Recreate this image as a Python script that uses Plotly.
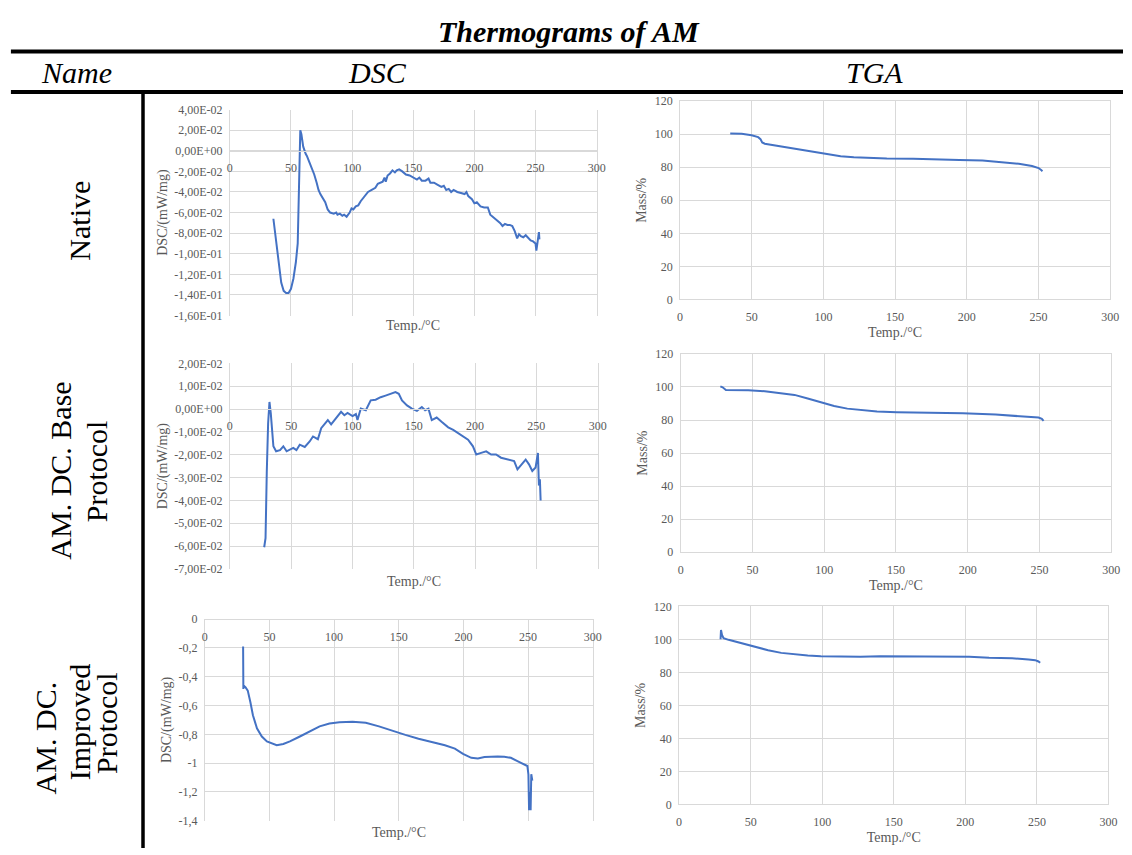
import plotly.graph_objects as go

W, H = 1132, 855

# ---------------- data ----------------
# Native DSC
dsc_native_T = [35.6, 38, 40, 42, 44, 46, 48, 50, 52, 54, 55.5, 56.3, 57, 57.6, 58.5, 60, 62, 63, 65, 67,
                69, 71, 72.5, 74, 76, 78, 80, 82, 85, 87, 88, 90, 92, 93.5, 95.5, 98, 99.5, 101, 103, 105,
                107, 110, 113, 116, 119, 121, 123, 125, 126.5, 127.5, 129, 131, 133, 135, 136.5, 138.5,
                141, 144, 147, 150, 153, 155, 157, 160, 162.5, 164, 167, 170, 173, 175, 177, 179, 181,
                183, 186, 189, 192, 193.5, 195, 198, 200, 202, 205, 208, 211, 213, 215, 217, 219, 221,
                223, 225, 227, 229, 231, 233, 235, 236.5, 238, 240, 242, 244, 246, 248, 250, 250.7,
                251.5, 252.3, 252.8, 253.2]
dsc_native_v = [-0.066, -0.09, -0.112, -0.128, -0.136, -0.138, -0.138, -0.134, -0.124, -0.108, -0.09,
                -0.05, -0.01, 0.020, 0.016, 0.004, -0.003, -0.005, -0.011, -0.017, -0.023, -0.031,
                -0.038, -0.042, -0.046, -0.05, -0.057, -0.06, -0.061, -0.06, -0.062, -0.061, -0.063,
                -0.062, -0.064, -0.060, -0.056, -0.057, -0.054, -0.053, -0.049, -0.044, -0.040, -0.038,
                -0.036, -0.032, -0.031, -0.030, -0.026, -0.030, -0.024, -0.022, -0.019, -0.021, -0.019,
                -0.018, -0.020, -0.023, -0.024, -0.026, -0.028, -0.026, -0.029, -0.029, -0.027, -0.031,
                -0.031, -0.033, -0.035, -0.034, -0.038, -0.037, -0.040, -0.038, -0.040, -0.041, -0.042,
                -0.040, -0.044, -0.047, -0.051, -0.050, -0.054, -0.055, -0.055, -0.062, -0.064, -0.066,
                -0.068, -0.070, -0.073, -0.071, -0.072, -0.072, -0.073, -0.078, -0.085, -0.081, -0.083,
                -0.084, -0.082, -0.085, -0.087, -0.088, -0.090, -0.097, -0.089, -0.085, -0.079, -0.086]

# Native TGA
tga_native_T = [35, 43, 49.9, 54.5, 56.1, 57.3, 59.1, 66, 75.2, 84.4, 93.6, 102.8, 112, 121.2, 130.4,
                144.2, 162.7, 181.1, 194.9, 211, 224.8, 236.3, 245.5, 250.1, 251.9, 252.8]
tga_native_v = [100.4, 100.2, 99.4, 98.2, 97.0, 95.0, 94.2, 93.2, 92.0, 90.4, 89.1, 87.9, 86.7, 86.1,
                85.7, 85.3, 85.1, 84.9, 84.3, 84.1, 83.1, 82.1, 80.7, 79.5, 78.3, 77.6]

# AM. DC. Base Protocol DSC
dsc_base_T = [28, 29.1, 30.1, 31.2, 32.3, 33.4, 35.5, 37.7, 40.9, 43.6, 46.3, 51.7, 54.3, 57, 61.1, 65.1,
              67.8, 71.8, 74.5, 79.9, 82.6, 86.6, 90.7, 93.4, 96, 100.1, 102.8, 104.1, 106.8, 110.9,
              114.9, 118.9, 123, 127, 131, 135.1, 137.8, 140.4, 144.5, 148.5, 152.6, 156.6, 159.3, 162,
              164.7, 168.7, 172.7, 178.1, 182.2, 186.2, 190.2, 194.3, 198.3, 201, 205, 209.1, 213.1,
              217.1, 221.2, 226.5, 231.9, 234.6, 238.7, 241.3, 244, 246.7, 249.4, 251.3, 252.1, 252.9,
              253.5]
dsc_base_v = [-0.0605, -0.0565, -0.0278, -0.0063, 0.0031, -0.002, -0.0163, -0.0185, -0.018, -0.0163,
              -0.0185, -0.017, -0.018, -0.0156, -0.0166, -0.0142, -0.012, -0.0132, -0.0084, -0.0048,
              -0.0067, -0.0041, -0.0012, -0.0027, -0.0017, -0.0031, -0.0022, -0.0048, 0.0002, -0.0005,
              0.0038, 0.0041, 0.0052, 0.0059, 0.0067, 0.0074, 0.0067, 0.0038, 0.0016, 0.0002, -0.0008,
              0.0009, -0.0005, 0.0002, -0.0048, -0.0037, -0.0056, -0.008, -0.0091, -0.0106, -0.012,
              -0.0134, -0.0163, -0.0199, -0.0192, -0.0185, -0.0199, -0.0199, -0.0213, -0.0221, -0.0228,
              -0.0264, -0.0235, -0.0221, -0.0242, -0.0271, -0.0256, -0.0192, -0.0335, -0.0307, -0.040]

# AM. DC. Base Protocol TGA
tga_base_T = [27.6, 29.2, 31.5, 35.6, 47.1, 58.6, 70.1, 79.3, 88.5, 97.7, 106.9, 116.1, 125.3, 136.8,
              150.6, 173.6, 196.6, 219.5, 237.9, 249.4, 251.7, 252.9]
tga_base_v = [100.4, 99.8, 98.2, 98.2, 98.0, 97.4, 96.4, 95.2, 93.0, 90.6, 88.5, 86.9, 85.9, 85.1,
              84.7, 84.5, 84.1, 83.3, 82.3, 81.5, 80.7, 79.5]

# AM. DC. Improved Protocol DSC
dsc_impr_T = [29.6, 29.8, 30.1, 31.4, 33.2, 35.2, 37.2, 40.3, 44.1, 48, 53.1, 55.6, 60.7, 65.8, 73.5,
              81.1, 88.8, 96.4, 104.1, 114.3, 124.5, 134.7, 144.9, 155.1, 165.3, 175.5, 185.7, 193.4,
              199.7, 206.1, 211.2, 216.3, 221.4, 226.5, 231.6, 236.7, 241.8, 246.9, 249.5, 250.3,
              250.8, 251.5, 252, 252.5, 253.3]
dsc_impr_v = [-0.19, -0.485, -0.462, -0.473, -0.496, -0.576, -0.667, -0.758, -0.815, -0.849, -0.867,
              -0.876, -0.867, -0.849, -0.815, -0.781, -0.745, -0.725, -0.716, -0.713, -0.719, -0.745,
              -0.776, -0.804, -0.831, -0.854, -0.876, -0.899, -0.936, -0.963, -0.967, -0.958, -0.954,
              -0.954, -0.956, -0.963, -0.986, -1.008, -1.020, -1.08, -1.327, -1.2, -1.327, -1.077,
              -1.122]

# AM. DC. Improved Protocol TGA
tga_impr_T = [29, 29.3, 30, 30.4, 31.1, 34.6, 41.5, 48.4, 55.3, 62.2, 71.4, 80.6, 89.9, 99.1, 112.9,
              126.7, 140.5, 156.7, 172.8, 186.6, 202.8, 216.6, 232.7, 244.2, 248.8, 251.1, 252.3]
tga_impr_v = [100.1, 105.7, 102.7, 101.7, 100.7, 99.7, 98.1, 96.4, 94.8, 93.4, 91.8, 90.8, 90.2, 89.8,
              89.4, 89.4, 89.8, 89.6, 89.8, 89.6, 89.4, 88.8, 88.6, 87.8, 87.4, 86.6, 85.8]

# tick labels
x_ticks = [0, 50, 100, 150, 200, 250, 300]
x_ticktext = ["0", "50", "100", "150", "200", "250", "300"]
dsc_native_ticks = [-0.16, -0.14, -0.12, -0.10, -0.08, -0.06, -0.04, -0.02, 0.0, 0.02, 0.04]
dsc_native_ticktext = ["-1,60E-01", "-1,40E-01", "-1,20E-01", "-1,00E-01", "-8,00E-02", "-6,00E-02",
                       "-4,00E-02", "-2,00E-02", "0,00E+00", "2,00E-02", "4,00E-02"]
dsc_base_ticks = [-0.07, -0.06, -0.05, -0.04, -0.03, -0.02, -0.01, 0.0, 0.01, 0.02]
dsc_base_ticktext = ["-7,00E-02", "-6,00E-02", "-5,00E-02", "-4,00E-02", "-3,00E-02", "-2,00E-02",
                     "-1,00E-02", "0,00E+00", "1,00E-02", "2,00E-02"]
dsc_impr_ticks = [-1.4, -1.2, -1.0, -0.8, -0.6, -0.4, -0.2, 0.0]
dsc_impr_ticktext = ["-1,4", "-1,2", "-1", "-0,8", "-0,6", "-0,4", "-0,2", "0"]
tga_ticks = [0, 20, 40, 60, 80, 100, 120]
tga_ticktext = ["0", "20", "40", "60", "80", "100", "120"]

# ---------------- layout helpers ----------------
LINE = "#4472C4"
GRID = "#D9D9D9"
TXT = "#595959"
SERIF = "Liberation Serif"


def px(x):
    return x / W


def py(y):
    return 1 - y / H


panels = [
    (dsc_native_T, dsc_native_v, (229.3, 600), (104.3, 313.7), [-0.16, 0.04], dsc_native_ticks, dsc_native_ticktext, "dsc", "DSC/(mW/mg)", 324),
    (tga_native_T, tga_native_v, (684.3, 1119), (95.7, 297.3), [0, 120], tga_ticks, tga_ticktext, "tga", "Mass/%", None),
    (dsc_base_T, dsc_base_v, (229.3, 601), (362.3, 571.3), [-0.07, 0.02], dsc_base_ticks, dsc_base_ticktext, "dsc", "DSC/(mW/mg)", 584),
    (tga_base_T, tga_base_v, (685, 1120), (352.7, 554.3), [0, 120], tga_ticks, tga_ticktext, "tga", "Mass/%", None),
    (dsc_impr_T, dsc_impr_v, (204, 596), (622.3, 827.3), [-1.4, 0], dsc_impr_ticks, dsc_impr_ticktext, "dsc", "DSC/(mW/mg)", 839),
    (tga_impr_T, tga_impr_v, (683.3, 1117.3), (609.3, 810.7), [0, 120], tga_ticks, tga_ticktext, "tga", "Mass/%", None),
]

fig = go.Figure()
layout = dict(
    width=W, height=H, margin=dict(l=0, r=0, t=0, b=0),
    paper_bgcolor="white", plot_bgcolor="white", showlegend=False,
    font=dict(family=SERIF, color=TXT),
)
annotations = []
tickfont = dict(family=SERIF, size=12, color=TXT)
titlefont = dict(family=SERIF, size=14, color=TXT)

for i, (xs, ys, (xl, xr), (yt, yb), yr, yt_vals, yt_text, kind, ytitle, xt_y) in enumerate(panels):
    n = "" if i == 0 else str(i + 1)
    fig.add_trace(go.Scatter(x=xs, y=ys, mode="lines", line=dict(color=LINE, width=2),
                             xaxis="x" + n, yaxis="y" + n, hoverinfo="x+y"))
    ydom = [py(yb), py(yt)]
    xax = dict(domain=[px(xl), px(xr)], range=[0, 300], tickvals=x_ticks, ticktext=x_ticktext,
               showgrid=True, gridcolor=GRID, gridwidth=1, zeroline=False, ticks="",
               tickfont=tickfont, showline=True, linecolor=GRID, linewidth=1,
               ticklabelstandoff=6, fixedrange=True)
    yax = dict(domain=ydom, range=yr, tickvals=yt_vals, ticktext=yt_text, showgrid=True,
               gridcolor=GRID, gridwidth=1, zeroline=False, ticks="", tickfont=tickfont,
               showline=True, mirror=True, linecolor=GRID, linewidth=1, anchor="x" + n,
               ticklabelstandoff=4, fixedrange=True,
               title=dict(text=ytitle, font=titlefont, standoff=3 if kind == "dsc" else 4))
    if kind == "dsc":
        # horizontal axis crosses the vertical axis at 0
        pos = ydom[0] + (0 - yr[0]) / (yr[1] - yr[0]) * (ydom[1] - ydom[0])
        xax.update(anchor="free", position=pos)
        annotations.append(dict(text="Temp./°C", x=px((xl + xr) / 2), y=py(xt_y),
                                xref="paper", yref="paper", showarrow=False,
                                font=titlefont, xanchor="center", yanchor="middle"))
    else:
        xax.update(anchor="y" + n, mirror=True,
                   title=dict(text="Temp./°C", font=titlefont, standoff=4))
    layout["xaxis" + n] = xax
    layout["yaxis" + n] = yax

# ---------------- table header / row labels ----------------
HDR = dict(family=SERIF, size=30, color="black")
hdr = [
    dict(text="<b><i>Thermograms of AM</i></b>", x=px(572), y=py(25)),
    dict(text="<i>Name</i>", x=px(74), y=py(67)),
    dict(text="<i>DSC</i>", x=px(379), y=py(67)),
    dict(text="<i>TGA</i>", x=px(881), y=py(67)),
    dict(text="Native", x=px(77), y=py(217), textangle=-90),
    dict(text="AM. DC. Base", x=px(58), y=py(471), textangle=-90),
    dict(text="Protocol", x=px(94), y=py(472), textangle=-90),
    dict(text="AM. DC.", x=px(43), y=py(743), textangle=-90),
    dict(text="Improved", x=px(77), y=py(727), textangle=-90),
    dict(text="Protocol", x=px(104), y=py(728), textangle=-90),
]
for a in hdr:
    a.update(xref="paper", yref="paper", showarrow=False, font=HDR,
             xanchor="center", yanchor="middle")
annotations += hdr

shapes = [
    dict(type="line", xref="paper", yref="paper", x0=px(8), x1=1.0, y0=py(45.3), y1=py(45.3),
         line=dict(color="black", width=4)),
    dict(type="line", xref="paper", yref="paper", x0=px(8), x1=1.0, y0=py(86.3), y1=py(86.3),
         line=dict(color="black", width=4)),
    dict(type="line", xref="paper", yref="paper", x0=px(141.5), x1=px(141.5), y0=0, y1=py(86),
         line=dict(color="black", width=3.5)),
]
layout["annotations"] = annotations
layout["shapes"] = shapes
fig.update_layout(**layout)
fig.write_html("out.html")
